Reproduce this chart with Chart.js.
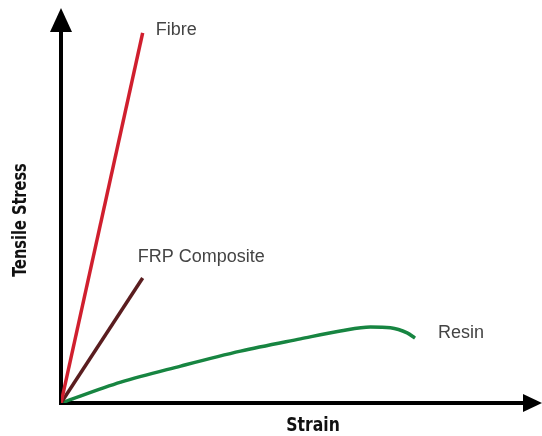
<!DOCTYPE html>
<html>
<head>
<meta charset="utf-8">
<script src="https://cdn.jsdelivr.net/npm/chart.js@4"></script>
<style>
  html, body { margin: 0; padding: 0; background: #fff; }
  #wrap { width: 542px; height: 436px; }
</style>
</head>
<body>
<div id="wrap"><canvas id="grafico" width="542" height="436"></canvas></div>
<script>
// dados (unidades arbitrárias, 0-100)
const nomesSeries = ["Fibre", "FRP Composite", "Resin"];
const fibreX = [0, 17.6];
const fibreY = [0, 99.2];
const frpX = [0, 17.6];
const frpY = [0, 33.5];
const resinX = [0, 12.9, 25.8, 38.7, 51.6, 60.2, 66.7, 71.0, 74.6, 76.3];
const resinY = [0, 5.6, 9.9, 13.9, 17.2, 19.3, 20.4, 20.2, 18.8, 17.4];
const tituloX = "Strain";
const tituloY = "Tensile Stress";

const cores = ["#d01f2e", "#5a1d1f", "#178541"];

function pontos(xs, ys) {
    return xs.map((x, i) => ({ x: x, y: ys[i] }));
}

// setas, títulos dos eixos e nomes das curvas
const desenhoExtra = {
    id: 'desenhoExtra',
    afterDraw(chart) {
        const ctx = chart.ctx;
        const area = chart.chartArea;
        ctx.save();
        ctx.fillStyle = '#000';

        // seta do eixo y
        ctx.beginPath();
        ctx.moveTo(area.left, area.top - 22);
        ctx.lineTo(area.left - 11, area.top + 2);
        ctx.lineTo(area.left + 11, area.top + 2);
        ctx.closePath();
        ctx.fill();

        // seta do eixo x
        ctx.beginPath();
        ctx.moveTo(area.right + 17, area.bottom);
        ctx.lineTo(area.right - 2, area.bottom - 9);
        ctx.lineTo(area.right - 2, area.bottom + 9);
        ctx.closePath();
        ctx.fill();

        // títulos dos eixos (fonte condensada)
        ctx.fillStyle = '#111';
        ctx.font = 'bold 20px "Liberation Sans Narrow", "DejaVu Sans Condensed", sans-serif';
        ctx.textAlign = 'center';
        ctx.textBaseline = 'middle';
        ctx.save();
        ctx.translate(313, 426);
        ctx.scale(0.87, 1);
        ctx.fillText(tituloX, 0, 0);
        ctx.restore();
        ctx.save();
        ctx.translate(21, 220);
        ctx.rotate(-Math.PI / 2);
        ctx.scale(0.81, 1);
        ctx.fillText(tituloY, 0, 0);
        ctx.restore();

        // nomes das curvas perto do último ponto
        const desloc = [[13, -3], [-5, -21], [23, -5]];
        ctx.fillStyle = '#444';
        ctx.font = '18px "Liberation Sans", Arial, sans-serif';
        ctx.textAlign = 'left';
        chart.data.datasets.forEach((ds, i) => {
            const ultimo = ds.data[ds.data.length - 1];
            const px = chart.scales.x.getPixelForValue(ultimo.x);
            const py = chart.scales.y.getPixelForValue(ultimo.y);
            ctx.fillText(nomesSeries[i], px + desloc[i][0], py + desloc[i][1]);
        });
        ctx.restore();
    }
};

const ctx = document.getElementById('grafico').getContext('2d');
const chart = new Chart(ctx, {
    type: 'scatter',
    data: {
        datasets: [
            { label: nomesSeries[0], data: pontos(fibreX, fibreY), borderColor: cores[0] },
            { label: nomesSeries[1], data: pontos(frpX, frpY), borderColor: cores[1] },
            { label: nomesSeries[2], data: pontos(resinX, resinY), borderColor: cores[2], cubicInterpolationMode: 'monotone' }
        ].map(ds => Object.assign(ds, { showLine: true, pointRadius: 0, borderWidth: 3.5, fill: false }))
    },
    options: {
        responsive: false,
        maintainAspectRatio: false,
        devicePixelRatio: 1,
        animation: false,
        layout: { padding: { left: 53, right: 17, top: 30, bottom: 25 } },
        plugins: { legend: { display: false }, tooltip: { enabled: false } },
        scales: {
            x: {
                type: 'linear', min: 0, max: 100,
                grid: { display: false },
                ticks: { display: false },
                border: { display: true, color: '#000', width: 4 }
            },
            y: {
                type: 'linear', min: 0, max: 100,
                grid: { display: false },
                ticks: { display: false },
                border: { display: true, color: '#000', width: 4 }
            }
        }
    },
    plugins: [desenhoExtra]
});
</script>
</body>
</html>
